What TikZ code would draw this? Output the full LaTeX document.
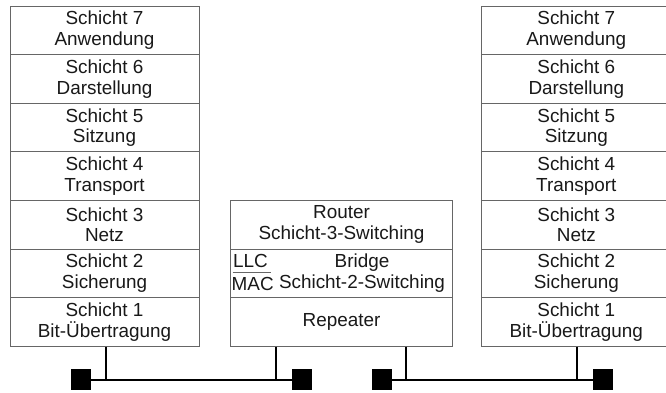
\documentclass[tikz,border=0pt]{standalone}
\usepackage{fontspec}
\setmainfont{Liberation Sans}
\begin{document}
\begin{tikzpicture}[x=1pt,y=-1pt,
  lay/.style={draw=black!60,line width=0.9pt,rectangle,minimum width=189pt,minimum height=48.6pt,inner sep=0pt,align=center,font=\fontsize{18.9}{20.7}\selectfont,text=black!90},
  mid/.style={draw=black!60,line width=0.9pt,rectangle,minimum width=221.6pt,minimum height=48.6pt,inner sep=0pt,align=center,font=\fontsize{18.9}{20.7}\selectfont,text=black!90},
  txt/.style={inner sep=0pt,align=center,font=\fontsize{18.9}{20.7}\selectfont,text=black!90},
  sq/.style={fill=black,draw=none,minimum width=20pt,minimum height=21pt,inner sep=0pt},
  bus/.style={line width=2pt,black}]
\useasboundingbox (0,0) rectangle (666,392);
\clip (0,0) rectangle (666,392);
\fill[white] (0,0) rectangle (666,392);
% left stack
\node[lay] (L7) at (104.5,30.3) {Schicht 7\\Anwendung};
\node[lay] (L6) at (104.5,78.9) {Schicht 6\\Darstellung};
\node[lay] (L5) at (104.5,127.5) {Schicht 5\\Sitzung};
\node[lay] (L4) at (104.5,176.1) {Schicht 4\\Transport};
\node[lay] (L3) at (104.5,224.7) {Schicht 3\\Netz};
\node[lay] (L2) at (104.5,273.3) {Schicht 2\\Sicherung};
\node[lay] (L1) at (104.5,321.9) {Schicht 1\\Bit-Übertragung};
% right stack
\node[lay] (R7) at (576.3,30.3) {Schicht 7\\Anwendung};
\node[lay] (R6) at (576.3,78.9) {Schicht 6\\Darstellung};
\node[lay] (R5) at (576.3,127.5) {Schicht 5\\Sitzung};
\node[lay] (R4) at (576.3,176.1) {Schicht 4\\Transport};
\node[lay] (R3) at (576.3,224.7) {Schicht 3\\Netz};
\node[lay] (R2) at (576.3,273.3) {Schicht 2\\Sicherung};
\node[lay] (R1) at (576.3,321.9) {Schicht 1\\Bit-Übertragung};
% middle device
\node[mid] (M3) at (341.5,224.7) {Router\\Schicht-3-Switching};
\node[mid] (M2) at (341.5,273.3) {};
\node[mid] (M1) at (341.5,321.9) {Repeater};
\node[txt] (br) at (362,273.3) {Bridge\\Schicht-2-Switching};
\node[txt,anchor=base west] (llc) at (233,267) {LLC};
\node[txt,anchor=base west] (mac) at (231.5,290) {MAC};
\draw[black!60,line width=0.8pt] (232.5,272.7) -- (270.5,272.7);
% bus
\node[sq] (sa) at (81,379.5) {};
\node[sq] (sb) at (301.7,379.5) {};
\node[sq] (sc) at (381.7,379.5) {};
\node[sq] (sd) at (603,379.5) {};
\draw[bus] (sa.east) -- (sb.west);
\draw[bus] (sc.east) -- (sd.west);
\draw[bus] ([xshift=1.5pt]L1.south) -- ([xshift=1.5pt]L1.south |- sa.east);
\draw[bus] ([xshift=-65.5pt]M1.south) -- ([xshift=-65.5pt]M1.south |- sb.west);
\draw[bus] ([xshift=64.2pt]M1.south) -- ([xshift=64.2pt]M1.south |- sc.east);
\draw[bus] ([xshift=1pt]R1.south) -- ([xshift=1pt]R1.south |- sd.west);
\end{tikzpicture}
\end{document}
